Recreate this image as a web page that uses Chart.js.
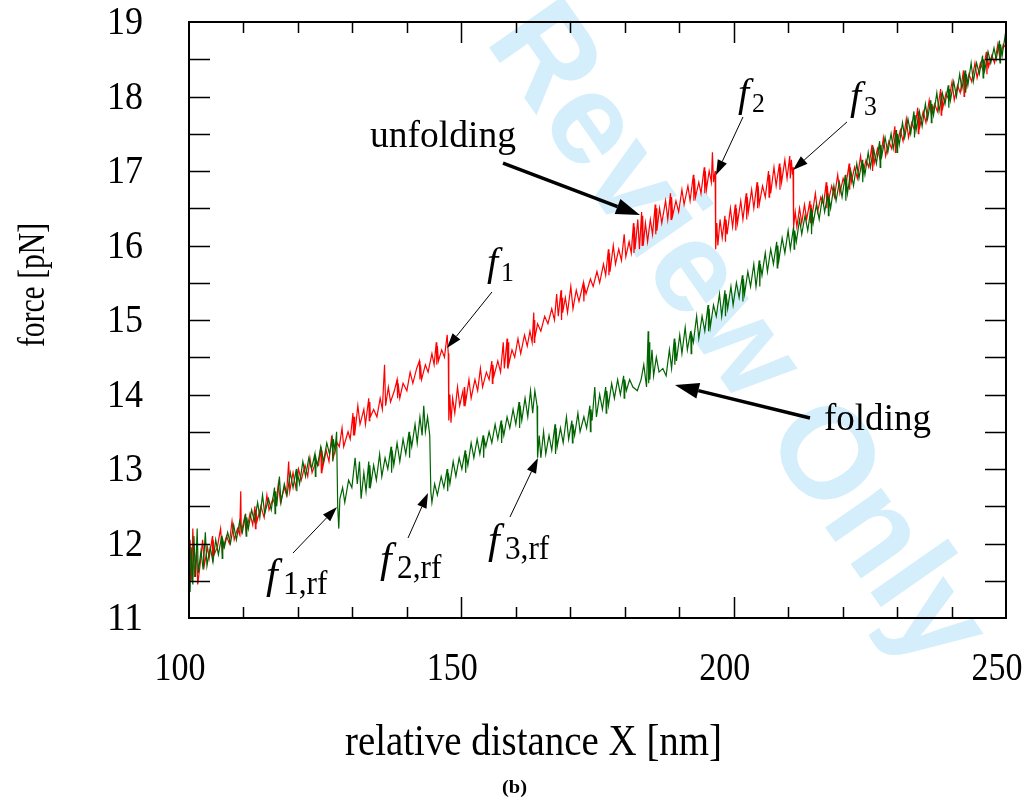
<!DOCTYPE html>
<html>
<head>
<meta charset="utf-8">
<script src="https://cdn.jsdelivr.net/npm/chart.js@4"></script>
<style>
  body { margin: 0; background: #fff; }
</style>
</head>
<body>
<canvas id="c" width="1025" height="810"></canvas>
<script>
// unfolding trace (red), [distance nm, force pN]
const unfolding = [
    [100.0,11.42],[100.2,12.05],[100.5,11.5],[100.7,12.2],[101.0,11.55],[101.4,11.9],[101.6,11.45],[102.1,11.75],[102.5,12.05],[102.8,11.7],
    [103.4,11.95],[103.7,11.8],[104.3,12.1],[104.35,11.75],[104.45,12.05],[104.6,11.85],[105.2,11.95],[105.8,12.2],[106.1,11.9],[106.9,12.1],
    [107.4,12.0],[107.9,12.3],[108.3,12.05],[108.9,12.2],[109.3,12.12],[109.5,12.7],[109.6,12.15],[110.2,12.35],[110.5,12.15],[111.2,12.4],
    [111.7,12.25],[112.1,12.5],[112.2,12.2],[112.3,12.45],[112.5,12.3],[113.2,12.5],[113.8,12.35],[114.3,12.65],[114.7,12.45],[115.4,12.6],
    [115.9,12.5],[116.4,12.8],[116.8,12.55],[117.5,12.75],[117.9,12.65],[118.3,13.1],[118.5,12.7],[119.1,12.95],[119.6,12.75],[120.1,13.0],
    [120.6,12.85],[121.3,13.05],[121.8,12.9],[122.2,13.15],[122.6,12.95],[123.3,13.1],[123.8,13.05],[124.2,13.3],[124.3,12.95],[124.4,13.25],
    [124.5,13.0],[125.2,13.25],[125.7,13.1],[126.2,13.45],[126.5,13.15],[127.2,13.35],[127.6,13.3],[128.1,13.55],[128.4,13.3],[129.2,13.5],
    [129.6,13.4],[130.1,13.75],[130.2,13.45],[130.3,13.7],[130.4,13.45],[131.0,13.85],[131.4,13.6],[132.1,13.8],[132.4,13.6],[133.0,13.95],
    [133.1,13.65],[133.2,13.9],[133.3,13.7],[133.9,13.8],[134.5,13.7],[135.1,13.95],[135.5,13.8],[135.9,14.4],[136.1,13.85],[136.6,14.1],
    [137.0,13.9],[137.7,14.05],[138.2,14.2],[138.3,13.95],[138.4,14.15],[138.7,13.95],[139.3,14.15],[140.0,14.05],[140.6,14.3],[141.1,14.15],
    [141.8,14.35],[142.3,14.45],[142.4,14.2],[142.5,14.4],[142.7,14.2],[143.4,14.4],[143.9,14.3],[144.6,14.55],[145.0,14.4],[145.4,14.7],
    [145.5,14.4],[145.6,14.65],[145.8,14.45],[146.4,14.6],[146.9,14.5],[147.4,14.8],[147.6,14.55],
    [147.7,13.65],[147.9,14.0],[148.1,13.62],[148.4,13.95],[148.8,13.75],[149.3,14.1],[149.7,13.85],[150.3,14.05],[150.5,13.85],[150.6,14.1],
    [150.8,13.9],[151.4,14.2],[151.8,13.95],[152.5,14.2],[153.0,14.05],[153.5,14.35],[153.9,14.1],[154.6,14.3],[155.1,14.2],[155.6,14.45],
    [155.7,14.15],[155.8,14.4],[156.0,14.25],[156.7,14.45],[157.2,14.3],[157.7,14.7],[157.9,14.35],[158.4,14.75],[158.5,14.35],[158.6,14.7],
    [158.7,14.4],[159.3,14.6],[159.8,14.5],[160.4,14.75],[160.9,14.55],[161.6,14.8],[162.1,14.65],[162.6,14.85],[163.0,14.7],[163.3,15.1],
    [163.4,14.7],[163.45,15.0],[163.5,14.75],[164.0,14.95],[164.6,14.85],[165.3,15.05],[165.9,14.95],[166.6,15.15],[167.1,15.0],[167.5,15.35],
    [167.8,15.05],[168.3,15.4],[168.4,15.0],[168.5,15.3],[168.6,15.1],[169.1,15.3],[169.5,15.1],[170.1,15.45],[170.5,15.15],[171.1,15.4],
    [171.6,15.25],[172.4,15.5],[172.5,15.25],[172.6,15.45],[172.9,15.35],[173.7,15.55],[174.2,15.45],[174.9,15.65],[175.4,15.5],[176.1,15.75],
    [176.5,15.6],[177.0,15.95],[177.1,15.6],[177.2,15.9],[177.3,15.65],[177.9,16.0],[178.3,15.75],[178.9,15.95],[179.4,15.8],[179.9,16.15],
    [180.2,15.85],[180.8,16.05],[181.2,15.9],[181.6,16.3],[181.7,15.9],[181.8,16.25],[181.9,15.95],[182.4,16.35],[182.7,15.95],[183.1,16.45],
    [183.2,16.0],[183.3,16.4],[183.4,16.0],[183.8,16.3],[184.2,16.05],[184.7,16.35],[185.1,16.15],[185.6,16.55],[185.7,16.15],[185.8,16.5],
    [185.9,16.2],[186.4,16.5],[186.8,16.3],[187.5,16.6],[187.9,16.35],[188.4,16.7],[188.5,16.35],[188.6,16.65],[188.8,16.4],[189.4,16.6],
    [189.9,16.45],[190.5,16.75],[190.9,16.55],[191.6,16.8],[192.0,16.6],[192.6,16.95],[192.7,16.6],[192.8,16.9],[193.0,16.65],[193.6,16.85],
    [194.0,16.7],[194.6,17.05],[194.7,16.7],[194.8,17.0],[195.0,16.75],[195.5,17.0],[195.9,16.85],[196.1,17.25],[196.3,16.85],[196.6,17.0],
    [196.7,15.95],[196.9,16.3],[197.1,16.0],[197.5,16.35],[197.9,16.1],[198.4,16.4],[198.5,16.05],[198.6,16.35],[198.8,16.15],[199.4,16.5],
    [199.8,16.25],[200.3,16.55],[200.4,16.2],[200.5,16.5],[200.7,16.3],[201.3,16.6],[201.7,16.35],[202.3,16.7],[202.4,16.35],[202.5,16.65],
    [202.7,16.45],[203.3,16.75],[203.7,16.5],[204.3,16.85],[204.4,16.5],[204.5,16.8],[204.7,16.55],[205.3,16.8],[205.8,16.65],[206.4,17.0],
    [206.5,16.65],[206.6,16.95],[206.8,16.7],[207.4,17.05],[207.8,16.8],[208.4,17.1],[208.5,16.75],[208.6,17.05],[208.8,16.85],[209.4,17.15],
    [209.8,16.9],[210.3,17.2],[210.4,16.9],[210.6,17.15],[210.8,16.95],[210.9,17.05],
    [211.0,16.25],[211.3,16.45],[211.6,16.25],[212.1,16.5],[212.5,16.3],[213.0,16.55],[213.4,16.35],[214.0,16.6],[214.1,16.3],[214.2,16.55],
    [214.4,16.4],[215.0,16.7],[215.4,16.45],[216.0,16.65],[216.5,16.55],[217.0,16.85],[217.1,16.5],[217.2,16.8],[217.4,16.6],[218.0,16.8],
    [218.5,16.65],[219.1,16.95],[219.5,16.7],[220.1,16.9],[220.6,16.8],[221.2,17.1],[221.3,16.75],[221.4,17.05],[221.6,16.85],[222.2,17.05],
    [222.7,16.9],[223.3,17.2],[223.7,16.95],[224.3,17.15],[224.8,17.05],[225.4,17.35],[225.5,17.0],[225.6,17.3],[225.8,17.1],[226.4,17.3],
    [226.9,17.15],[227.5,17.45],[227.9,17.2],[228.5,17.4],[229.0,17.3],[229.6,17.6],[229.7,17.25],[229.8,17.55],[230.0,17.35],[230.6,17.55],
    [231.1,17.4],[231.7,17.7],[232.1,17.45],[232.7,17.65],[233.2,17.55],[233.8,17.85],[233.9,17.5],[234.0,17.8],[234.2,17.6],[234.8,17.8],
    [235.3,17.65],[235.9,17.95],[236.3,17.75],[236.9,17.9],[237.4,17.8],[238.0,18.1],[238.1,17.75],[238.2,18.05],[238.4,17.85],[239.0,18.05],
    [239.5,17.95],[240.1,18.2],[240.5,17.95],[241.1,18.15],[241.6,18.05],[242.2,18.35],[242.3,18.0],[242.4,18.3],[242.6,18.1],[243.2,18.3],
    [243.7,18.2],[244.3,18.45],[244.7,18.25],[245.3,18.45],[245.8,18.35],[246.4,18.6],[246.5,18.3],[246.6,18.55],[246.8,18.4],[247.4,18.55],
    [247.9,18.45],[248.5,18.7],[248.9,18.5],[249.5,18.7],[250.0,18.65]
];

// folding trace (green), [distance nm, force pN]
const folding = [
    [100.0,11.55],[100.2,11.35],[100.4,11.95],[100.7,11.45],[100.9,12.1],[101.2,11.55],[101.5,12.2],[101.7,11.6],[102.2,11.9],[102.6,11.65],
    [103.0,12.15],[103.3,11.7],[103.9,11.95],[104.4,11.75],[104.9,12.05],[105.4,11.85],[106.0,12.1],[106.1,11.8],[106.2,12.05],[106.5,11.95],
    [107.1,12.15],[107.6,12.0],[108.2,12.25],[108.7,12.05],[109.3,12.3],[109.8,12.15],[110.4,12.4],[110.5,12.1],[110.6,12.35],[110.9,12.2],
    [111.5,12.45],[112.0,12.3],[112.6,12.55],[113.0,12.35],[113.5,12.65],[113.9,12.4],[114.6,12.6],[115.1,12.45],[115.7,12.75],[115.8,12.4],
    [115.9,12.7],[116.1,12.5],[116.6,12.9],[116.9,12.55],[117.5,12.8],[118.0,12.65],[118.6,12.95],[119.1,12.75],[119.7,13.0],[119.8,12.7],
    [119.9,12.95],[120.3,12.8],[120.9,13.1],[121.4,12.9],[122.0,13.15],[122.5,13.0],[123.1,13.2],[123.2,12.9],[123.3,13.15],[123.6,13.05],
    [124.2,13.3],[124.7,13.1],[125.3,13.35],[125.8,13.2],[126.3,13.4],[126.4,13.1],[126.5,13.4],[126.8,13.25],[127.1,13.5],
    [127.3,12.5],[127.5,12.2],[127.7,12.6],[128.2,12.75],[128.6,12.55],[129.3,12.85],[129.9,12.75],[130.5,13.15],[130.9,12.8],[131.3,13.1],
    [131.6,12.6],[132.1,12.95],[132.5,12.7],[133.0,13.1],[133.1,12.75],[133.2,13.05],[133.4,12.8],[133.9,13.05],[134.4,12.85],[135.0,13.2],
    [135.4,12.9],[136.0,13.15],[136.5,13.0],[137.1,13.3],[137.2,12.95],[137.3,13.25],[137.6,13.05],[138.2,13.35],[138.7,13.1],[139.3,13.4],
    [139.8,13.2],[140.4,13.5],[140.5,13.15],[140.6,13.45],[140.9,13.3],[141.5,13.6],[141.9,13.35],[142.4,13.7],[142.8,13.45],[143.1,13.85],
    [143.4,13.5],[143.8,13.7],[144.2,13.45],
    [144.4,12.7],[144.6,12.55],[145.1,12.8],[145.6,12.65],[146.3,12.9],[146.8,12.75],[147.4,13.0],[147.5,12.7],[147.6,12.95],[147.9,12.8],
    [148.5,13.1],[149.0,12.9],[149.6,13.15],[150.1,13.0],[150.7,13.25],[150.8,12.95],[150.9,13.2],[151.2,13.05],[151.8,13.35],[152.3,13.15],
    [152.9,13.4],[153.4,13.2],[154.0,13.45],[154.1,13.15],[154.2,13.4],[154.5,13.3],[155.1,13.5],[155.6,13.35],[156.2,13.6],[156.7,13.4],
    [157.3,13.65],[157.4,13.35],[157.5,13.6],[157.8,13.45],[158.4,13.7],[158.9,13.55],[159.5,13.8],[160.0,13.6],[160.6,13.9],[160.7,13.55],
    [160.8,13.85],[161.1,13.65],[161.7,13.95],[162.2,13.7],[162.7,14.05],[163.1,13.75],[163.5,14.05],[163.9,13.85],
    [164.0,13.15],[164.3,13.45],[164.6,13.15],[165.1,13.5],[165.5,13.2],[166.1,13.45],[166.6,13.25],[167.2,13.6],[167.3,13.2],[167.4,13.55],
    [167.6,13.3],[168.2,13.55],[168.7,13.35],[169.3,13.7],[169.7,13.4],[170.3,13.65],[170.4,13.35],[170.5,13.6],[170.8,13.45],[171.4,13.75],
    [171.8,13.5],[172.5,13.7],[173.0,13.55],[173.6,13.85],[173.7,13.5],[173.8,13.8],[174.0,13.65],[174.5,14.1],[174.8,13.7],[175.4,14.0],
    [175.9,13.8],[176.5,14.1],[176.6,13.75],[176.7,14.05],[177.0,13.85],[177.6,14.15],[178.1,13.95],[178.7,14.2],[179.2,14.0],[179.8,14.25],
    [179.9,13.95],[180.0,14.2],[180.3,14.05],[180.9,14.2],[181.5,14.1],[182.3,14.05],[183.0,14.2],[183.5,14.4],[184.0,14.1],[184.3,14.85],
    [184.4,14.15],[184.5,14.7],[184.6,14.2],[185.0,14.6],[185.3,14.25],[185.8,14.5],[186.3,14.3],[187.0,14.35],[187.6,14.25],[188.2,14.6],
    [188.6,14.35],[189.1,14.75],[189.2,14.4],[189.3,14.7],[189.5,14.45],[190.1,14.8],[190.5,14.55],[191.1,14.9],[191.5,14.6],[192.1,14.85],
    [192.2,14.55],[192.3,14.8],[192.6,14.7],[193.2,15.05],[193.6,14.75],[194.2,15.05],[194.7,14.85],[195.3,15.2],[195.4,14.85],[195.5,15.15],
    [195.7,14.9],[196.3,15.2],[196.8,15.05],[197.4,15.35],[197.8,15.05],[198.4,15.4],[198.5,15.05],[198.6,15.35],[198.9,15.15],[199.5,15.45],
    [199.9,15.2],[200.5,15.5],[201.0,15.3],[201.6,15.6],[201.7,15.25],[201.8,15.55],[202.0,15.35],[202.6,15.65],[203.1,15.45],[203.7,15.75],
    [204.1,15.45],[204.7,15.8],[204.8,15.45],[204.9,15.75],[205.2,15.6],[205.8,15.9],[206.2,15.65],[206.8,15.95],[207.3,15.75],[207.9,16.05],
    [208.0,15.7],[208.1,16.0],[208.3,15.8],[208.9,16.1],[209.4,15.9],[210.0,16.2],[210.4,15.95],[211.0,16.25],[211.1,15.95],[211.2,16.2],
    [211.5,16.05],[212.1,16.35],[212.5,16.15],[213.1,16.4],[213.6,16.2],[214.2,16.5],[214.3,16.15],[214.4,16.45],[214.6,16.3],[215.2,16.55],
    [215.7,16.35],[216.3,16.65],[216.7,16.45],[217.3,16.7],[217.4,16.4],[217.5,16.65],[217.8,16.5],[218.4,16.8],[218.8,16.6],[219.4,16.85],
    [219.9,16.65],[220.5,16.95],[220.6,16.6],[220.7,16.9],[220.9,16.7],[221.5,17.0],[222.0,16.8],[222.6,17.1],[223.0,16.9],[223.6,17.15],
    [223.7,16.85],[223.8,17.1],[224.1,16.95],[224.7,17.25],[225.1,17.05],[225.7,17.3],[226.2,17.1],[226.8,17.4],[226.9,17.05],[227.0,17.35],
    [227.2,17.2],[227.8,17.45],[228.3,17.25],[228.9,17.5],[229.3,17.3],[229.9,17.55],[230.0,17.25],[230.1,17.5],[230.4,17.35],[231.0,17.65],
    [231.4,17.45],[232.0,17.7],[232.5,17.5],[233.1,17.8],[233.2,17.45],[233.3,17.75],[233.5,17.55],[234.1,17.8],[234.6,17.6],[235.2,17.9],
    [235.6,17.7],[236.2,17.95],[236.3,17.65],[236.4,17.9],[236.7,17.75],[237.3,18.05],[237.7,17.8],[238.3,18.05],[238.8,17.9],[239.4,18.15],
    [239.5,17.85],[239.6,18.1],[239.8,17.95],[240.4,18.2],[240.9,18.0],[241.5,18.3],[241.9,18.1],[242.5,18.35],[242.6,18.05],[242.7,18.3],
    [243.0,18.15],[243.6,18.45],[244.0,18.2],[244.6,18.45],[245.1,18.3],[245.7,18.55],[245.8,18.25],[245.9,18.5],[246.1,18.35],[246.7,18.6],
    [247.2,18.45],[247.8,18.65],[248.2,18.5],[248.8,18.75],[248.9,18.45],[249.0,18.7],[249.3,18.55],[249.8,18.8],[250.0,18.7]
];

// axis setup
const xRange = [100, 250];
const yRange = [11, 19];
const xMajorStep = 50;
const xMinorStep = 10;
const yMajorStep = 1;
const yMinorStep = 0.5;

// annotation labels: [main, subscript, x, y] anchored in data units
const forceLabels = [
    ["f", "1", 154.71, 15.604],
    ["f", "2", 200.79, 17.872],
    ["f", "3", 221.35, 17.832],
    ["f", "1,rf", 114.14, 11.403],
    ["f", "2,rf", 135.07, 11.617],
    ["f", "3,rf", 154.89, 11.872]
];
// thin arrows: [tailX, tailY, tipX, tipY]
const thinArrows = [
    [155.63, 15.376, 147.37, 14.624],
    [201.71, 17.725, 196.75, 16.946],
    [220.80, 17.658, 210.89, 17.013],
    [119.09, 11.872, 127.17, 12.490],
    [140.21, 12.074, 143.88, 12.678],
    [158.93, 12.356, 164.07, 13.148]
];
// word labels with thick arrows
const wordLabels = [
    ["unfolding", 133.23, 17.322, 146],
    ["folding", 216.58, 13.523, 107]
];
const thickArrows = [
    [157.65, 17.107, 182.80, 16.409],
    [214.01, 13.685, 189.22, 14.128]
];

const serif = '"Liberation Serif", "Times New Roman", serif';

function fitText(ctx, str, x, y, font, width) {
    ctx.font = font;
    const w = ctx.measureText(str).width;
    ctx.save();
    ctx.translate(x, y);
    ctx.scale(width / w, 1);
    ctx.textAlign = "left";
    ctx.textBaseline = "alphabetic";
    ctx.fillText(str, 0, 0);
    ctx.restore();
}

function drawArrow(ctx, x1, y1, x2, y2, lw, headLen, headW) {
    const a = Math.atan2(y2 - y1, x2 - x1);
    const bx = x2 - headLen * Math.cos(a);
    const by = y2 - headLen * Math.sin(a);
    ctx.lineWidth = lw;
    ctx.beginPath();
    ctx.moveTo(x1, y1);
    ctx.lineTo(bx, by);
    ctx.stroke();
    ctx.beginPath();
    ctx.moveTo(x2, y2);
    ctx.lineTo(bx + headW * Math.sin(a), by - headW * Math.cos(a));
    ctx.lineTo(bx - headW * Math.sin(a), by + headW * Math.cos(a));
    ctx.closePath();
    ctx.fill();
}

const decor = {
    id: "decor",
    beforeDraw(chart) {
        const ctx = chart.ctx;
        ctx.save();
        ctx.translate(665, 236);
        ctx.rotate(55 * Math.PI / 180);
        ctx.font = 'bold 130px "Liberation Sans", Arial, sans-serif';
        ctx.fillStyle = "#d4effb";
        ctx.textAlign = "center";
        ctx.textBaseline = "middle";
        ctx.fillText("For Review Only", 0, 0);
        ctx.restore();
    },
    afterDraw(chart) {
        const ctx = chart.ctx;
        const { left, right, top, bottom } = chart.chartArea;
        const xs = chart.scales.x;
        const ys = chart.scales.y;
        ctx.save();
        ctx.strokeStyle = "#000";
        ctx.fillStyle = "#000";

        // inward ticks on all four sides
        ctx.lineWidth = 1.5;
        ctx.beginPath();
        for (let v = xs.min + xMinorStep; v < xs.max; v += xMinorStep) {
            const px = Math.round(xs.getPixelForValue(v)) + 0.5;
            const len = v % xMajorStep === 0 ? 21 : 11;
            ctx.moveTo(px, bottom); ctx.lineTo(px, bottom - len);
            ctx.moveTo(px, top); ctx.lineTo(px, top + len);
        }
        for (let v = ys.min + yMinorStep; v < ys.max; v += yMinorStep) {
            const py = Math.round(ys.getPixelForValue(v)) + 0.5;
            ctx.moveTo(left, py); ctx.lineTo(left + 21, py);
            ctx.moveTo(right, py); ctx.lineTo(right - 21, py);
        }
        ctx.stroke();

        // frame
        ctx.lineWidth = 2;
        ctx.strokeRect(left, top, right - left, bottom - top);

        // tick labels
        ys.ticks.forEach((t) => {
            const py = ys.getPixelForValue(t.value);
            fitText(ctx, String(t.value), 107, py + 12, "40px " + serif, 36);
        });
        xs.ticks.forEach((t) => {
            const px = xs.getPixelForValue(t.value);
            fitText(ctx, String(t.value), px - 9 - 25.5, 680, "40px " + serif, 51);
        });

        // axis titles
        fitText(ctx, "relative distance X [nm]", 345, 755, "44px " + serif, 377);
        ctx.save();
        ctx.translate(44, 347);
        ctx.rotate(-Math.PI / 2);
        fitText(ctx, "force [pN]", 0, 0, "38px " + serif, 124);
        ctx.restore();
        fitText(ctx, "(b)", 502, 793, "bold 19px " + serif, 25);

        // word labels and thick arrows
        wordLabels.forEach(([txt, x, y, w]) => {
            fitText(ctx, txt, xs.getPixelForValue(x), ys.getPixelForValue(y), "37px " + serif, w);
        });
        thickArrows.forEach(([x1, y1, x2, y2]) => {
            drawArrow(ctx, xs.getPixelForValue(x1), ys.getPixelForValue(y1),
                xs.getPixelForValue(x2), ys.getPixelForValue(y2), 3.5, 24, 8);
        });

        // f labels and thin arrows
        forceLabels.forEach(([main, sub, x, y]) => {
            const px = xs.getPixelForValue(x);
            const py = ys.getPixelForValue(y);
            const big = sub.length > 1;
            ctx.font = "italic " + (big ? 42 : 40) + "px " + serif;
            ctx.textAlign = "left";
            ctx.textBaseline = "alphabetic";
            ctx.fillText(main, px, py);
            const fs = big ? 34 : 28;
            ctx.font = fs + "px " + serif;
            const sw = ctx.measureText(sub).width * 0.92;
            fitText(ctx, sub, px + (big ? 17 : 14), py + 6, fs + "px " + serif, sw);
        });
        thinArrows.forEach(([x1, y1, x2, y2]) => {
            drawArrow(ctx, xs.getPixelForValue(x1), ys.getPixelForValue(y1),
                xs.getPixelForValue(x2), ys.getPixelForValue(y2), 1, 15, 5);
        });
        ctx.restore();
    }
};

const toPoints = (arr) => arr.map(([x, y]) => ({ x, y }));

const config = {
    type: "scatter",
    data: {
        datasets: [
            {
                label: "unfolding",
                data: toPoints(unfolding),
                showLine: true,
                borderColor: "#ff0000",
                borderWidth: 1.2,
                pointRadius: 0,
                tension: 0,
                order: 1,
            },
            {
                label: "folding",
                data: toPoints(folding),
                showLine: true,
                borderColor: "#006400",
                borderWidth: 1.2,
                pointRadius: 0,
                tension: 0,
                order: 0,
            },
        ],
    },
    options: {
        responsive: false,
        animation: false,
        layout: { padding: { top: 22, right: 19, left: 0, bottom: 0 } },
        plugins: {
            legend: { display: false },
            tooltip: { enabled: false },
        },
        scales: {
            x: {
                type: "linear",
                min: xRange[0],
                max: xRange[1],
                grid: { display: false },
                border: { display: false },
                ticks: { display: false, stepSize: xMajorStep },
                afterFit: (s) => { s.height = 192; },
            },
            y: {
                type: "linear",
                min: yRange[0],
                max: yRange[1],
                grid: { display: false },
                border: { display: false },
                ticks: { display: false, stepSize: yMajorStep },
                afterFit: (s) => { s.width = 189; },
            },
        },
    },
    plugins: [decor],
};

new Chart(document.getElementById("c").getContext("2d"), config);
</script>
</body>
</html>
